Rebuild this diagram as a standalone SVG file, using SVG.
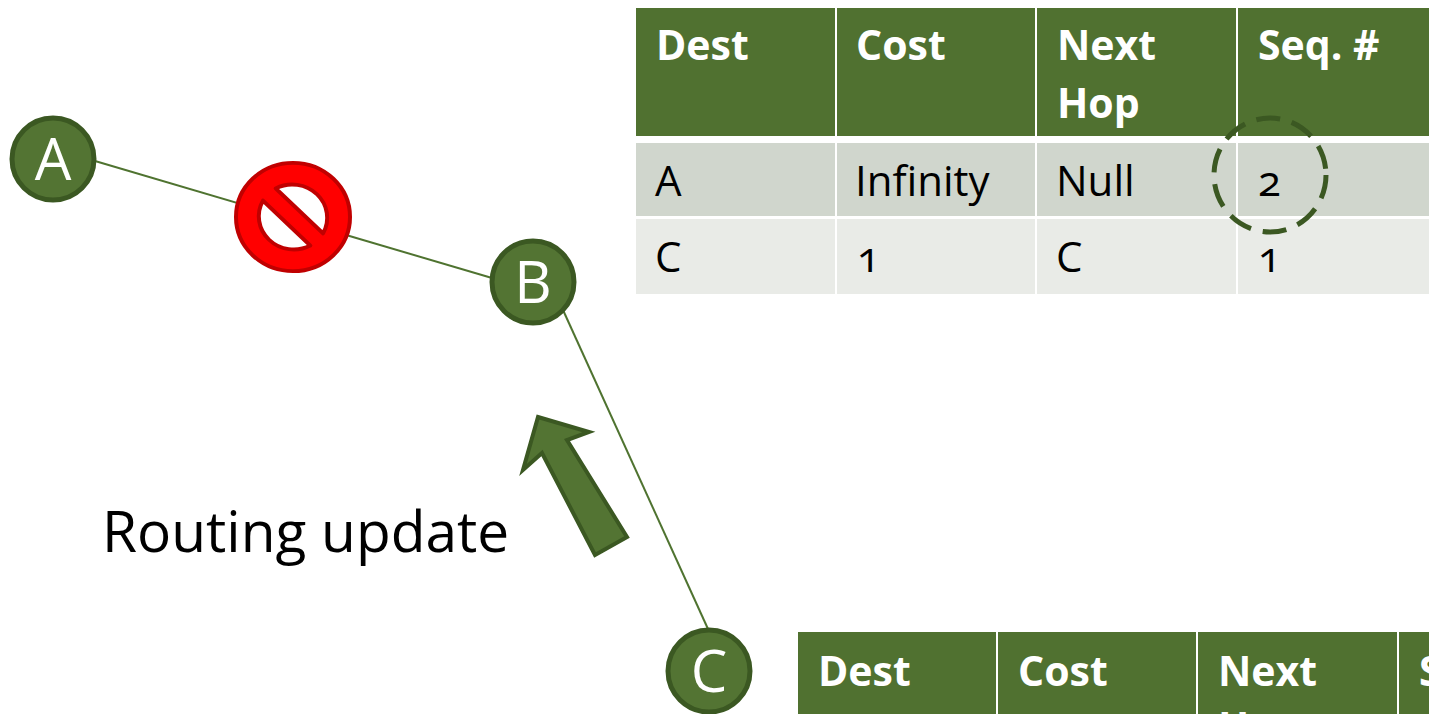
<svg xmlns="http://www.w3.org/2000/svg" width="1429" height="714" viewBox="0 0 1429 714">
<style>
.node{fill:#537433;stroke:#3b5822;stroke-width:5}
.nlabel{font-family:"Open Sans","Liberation Sans",sans-serif;font-size:58px;fill:#fff;text-anchor:middle}
.link{stroke:#4f7330;stroke-width:2;fill:none}
.hdr{fill:#507130}
.r1{fill:#d0d6cd}
.r2{fill:#e9ebe7}
.th{font-family:"Open Sans","Liberation Sans",sans-serif;font-weight:bold;font-size:41px;fill:#fff}
.td{font-family:"Open Sans","Liberation Sans",sans-serif;font-size:42px;fill:#000;font-variant-numeric:oldstyle-nums}
.label{font-family:"Open Sans","Liberation Sans",sans-serif;font-size:56.8px;fill:#000}
</style>
<rect width="1429" height="714" fill="#fff"/>
<g id="connectors">
<line class="link" x1="95" y1="161" x2="492" y2="278"/>
<line class="link" x1="563" y1="310" x2="708" y2="629"/>
</g>
<g id="node-A">
<circle class="node" cx="53" cy="159" r="41"/>
<text class="nlabel" x="53" y="180">A</text>
</g>
<g id="node-B">
<circle class="node" cx="533" cy="282" r="41"/>
<text class="nlabel" x="533" y="303">B</text>
</g>
<g id="node-C">
<circle class="node" cx="709" cy="671" r="41"/>
<text class="nlabel" x="709" y="692">C</text>
</g>
<g id="prohibited" transform="translate(293,217) scale(1,0.95) rotate(45)">
<circle r="57" fill="#ff0000" stroke="#c00000" stroke-width="4"/>
<path d="M -33.5,-9 A 35 35 0 0 1 33.5,-9 Z" fill="#fff" stroke="#c00000" stroke-width="4" stroke-linejoin="round"/>
<path d="M 33.5,9 A 35 35 0 0 1 -33.5,9 Z" fill="#fff" stroke="#c00000" stroke-width="4" stroke-linejoin="round"/>
</g>
<g id="update-arrow">
<polygon points="538,417 589,432 567,440 627,537 595,555 542,453 523,470" fill="#537433" stroke="#3b5822" stroke-width="4" stroke-linejoin="miter"/>
</g>
<g id="routing-label">
<text class="label" x="102" y="552">Routing update</text>
</g>
<g id="table-B">
<rect class="hdr" x="636" y="8" width="199" height="128"/>
<rect class="hdr" x="837" y="8" width="198" height="128"/>
<rect class="hdr" x="1037" y="8" width="199" height="128"/>
<rect class="hdr" x="1238" y="8" width="191" height="128"/>
<rect class="r1" x="636" y="143" width="199" height="73"/>
<rect class="r1" x="837" y="143" width="198" height="73"/>
<rect class="r1" x="1037" y="143" width="199" height="73"/>
<rect class="r1" x="1238" y="143" width="191" height="73"/>
<rect class="r2" x="636" y="219" width="199" height="75"/>
<rect class="r2" x="837" y="219" width="198" height="75"/>
<rect class="r2" x="1037" y="219" width="199" height="75"/>
<rect class="r2" x="1238" y="219" width="191" height="75"/>
<text class="th" x="656" y="60">Dest</text>
<text class="th" x="856" y="60">Cost</text>
<text class="th" x="1057" y="60">Next</text>
<text class="th" x="1057" y="118">Hop</text>
<text class="th" x="1258" y="60">Seq. #</text>
<text class="td" x="655" y="196">A</text>
<text class="td" x="855" y="196">Infinity</text>
<text class="td" x="1056" y="196">Null</text>
<text class="td" x="1258" y="196">2</text>
<text class="td" x="655" y="272">C</text>
<text class="td" x="857" y="272">1</text>
<text class="td" x="1056" y="272">C</text>
<text class="td" x="1258" y="272">1</text>
</g>
<g id="highlight">
<ellipse cx="1270" cy="175" rx="56" ry="57" fill="none" stroke="#3b5822" stroke-width="5" stroke-dasharray="24,12"/>
</g>
<g id="table-C">
<rect class="hdr" x="798" y="632" width="198" height="82"/>
<rect class="hdr" x="998" y="632" width="198" height="82"/>
<rect class="hdr" x="1198" y="632" width="199" height="82"/>
<rect class="hdr" x="1399" y="632" width="30" height="82"/>
<text class="th" x="818" y="686">Dest</text>
<text class="th" x="1018" y="686">Cost</text>
<text class="th" x="1218" y="686">Next</text>
<text class="th" x="1218" y="742">Hop</text>
<text class="th" x="1419" y="686">Seq. #</text>
</g>
</svg>
